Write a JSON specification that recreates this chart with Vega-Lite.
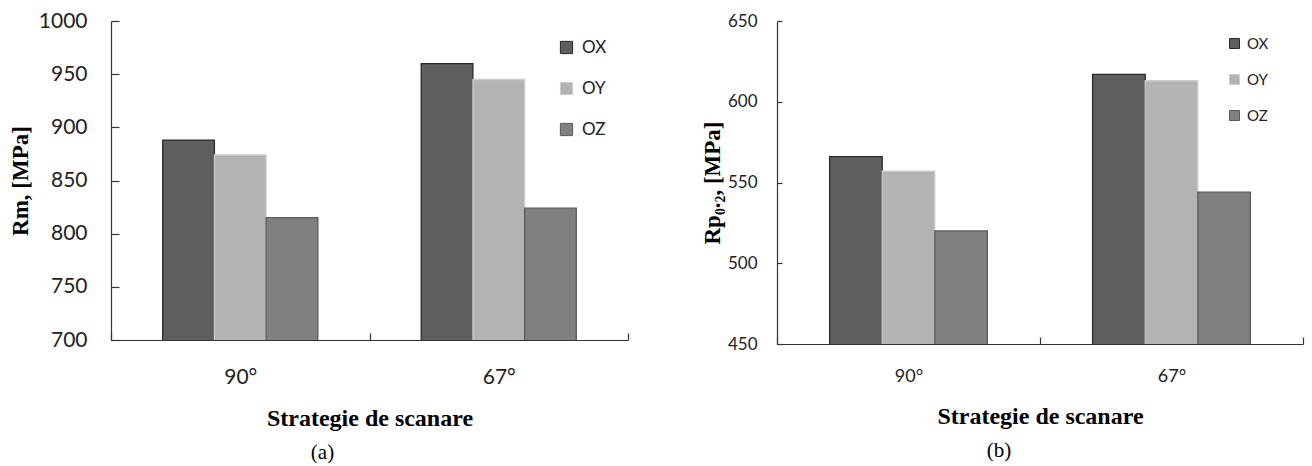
{
  "$schema": "https://vega.github.io/schema/vega-lite/v6.json",
  "background": "white",
  "padding": {"left": 9, "top": 10, "right": 5, "bottom": 0},
  "autosize": {"type": "pad"},
  "datasets": {
    "rm": [
      {"strategy": "90°", "series": "OX", "value": 888},
      {"strategy": "90°", "series": "OY", "value": 874},
      {"strategy": "90°", "series": "OZ", "value": 815},
      {"strategy": "67°", "series": "OX", "value": 960},
      {"strategy": "67°", "series": "OY", "value": 945},
      {"strategy": "67°", "series": "OZ", "value": 824}
    ],
    "rp": [
      {"strategy": "90°", "series": "OX", "value": 566},
      {"strategy": "90°", "series": "OY", "value": 557},
      {"strategy": "90°", "series": "OZ", "value": 520},
      {"strategy": "67°", "series": "OX", "value": 617},
      {"strategy": "67°", "series": "OY", "value": 613},
      {"strategy": "67°", "series": "OZ", "value": 544}
    ]
  },
  "config": {
    "view": {"stroke": null},
    "axis": {"grid": false, "domainColor": "#333", "tickColor": "#333", "labelColor": "#222", "labelFont": "Lato", "titleFont": "Liberation Serif", "titleFontWeight": "bold", "titleColor": "#000", "titleFontSize": 23, "domainWidth": 1.2, "tickWidth": 1.2}
  },
  "spacing": 72,
  "hconcat": [
    {
      "width": 517,
      "height": 319,
      "data": {"name": "rm"},
      "title": {"text": "(a)", "orient": "bottom", "font": "Liberation Serif", "fontSize": 21, "fontWeight": "normal", "color": "#000", "dx": -47, "offset": 12},
      "mark": {"type": "bar", "strokeWidth": 1.3, "clip": true},
      "encoding": {
        "x": {"field": "strategy", "type": "nominal", "sort": ["90°", "67°"], "scale": {"paddingInner": 0, "paddingOuter": 0},
          "axis": {"title": "Strategie de scanare", "titleFontSize": 24, "labelAngle": 0, "labelFontSize": 21, "tickBand": "extent", "tickSize": -7, "labelPadding": 33, "titlePadding": 19}},
        "xOffset": {"field": "series", "sort": ["OX", "OY", "OZ"], "scale": {"paddingOuter": 1.5, "paddingInner": 0}},
        "y": {"field": "value", "type": "quantitative", "scale": {"domain": [700, 1000], "nice": false, "zero": false},
          "axis": {"title": "Rm, [MPa]", "format": "d", "values": [700, 750, 800, 850, 900, 950, 1000], "labelFontSize": 21, "tickSize": -8, "labelPadding": 32, "titlePadding": 6}},
        "fill": {"field": "series", "type": "nominal", "scale": {"domain": ["OX", "OY", "OZ"], "range": ["#5e5e5e", "#b3b3b3", "#808080"]},
          "legend": {"orient": "none", "legendX": 447, "legendY": 18, "title": null, "symbolType": "square", "symbolSize": 150, "symbolStrokeWidth": 1, "labelFont": "Lato", "labelFontSize": 17, "labelColor": "#222", "rowPadding": 23, "labelOffset": 7}},
        "stroke": {"field": "series", "type": "nominal", "scale": {"domain": ["OX", "OY", "OZ"], "range": ["#2a2a2a", "#cccccc", "#5a5a5a"]},
          "legend": {"orient": "none", "legendX": 447, "legendY": 18, "title": null, "symbolType": "square", "symbolSize": 150, "symbolStrokeWidth": 1, "labelFont": "Lato", "labelFontSize": 17, "labelColor": "#222", "rowPadding": 23, "labelOffset": 7}}
      }
    },
    {
      "width": 526,
      "height": 323,
      "data": {"name": "rp"},
      "title": {"text": "(b)", "orient": "bottom", "font": "Liberation Serif", "fontSize": 21, "fontWeight": "normal", "color": "#000", "dx": -41, "offset": 12},
      "mark": {"type": "bar", "strokeWidth": 1.3, "clip": true},
      "encoding": {
        "x": {"field": "strategy", "type": "nominal", "sort": ["90°", "67°"], "scale": {"paddingInner": 0, "paddingOuter": 0},
          "axis": {"title": "Strategie de scanare", "titleFontSize": 24, "labelAngle": 0, "labelFontSize": 18, "tickBand": "extent", "tickSize": -7, "labelPadding": 30, "titlePadding": 19}},
        "xOffset": {"field": "series", "sort": ["OX", "OY", "OZ"], "scale": {"paddingOuter": 1.5, "paddingInner": 0}},
        "y": {"field": "value", "type": "quantitative", "scale": {"domain": [450, 650], "nice": false, "zero": false},
          "axis": {"title": "Rp₀.₂, [MPa]", "format": "d", "values": [450, 500, 550, 600, 650], "labelFontSize": 17, "tickSize": -5, "labelPadding": 25, "titlePadding": 3}},
        "fill": {"field": "series", "type": "nominal", "scale": {"domain": ["OX", "OY", "OZ"], "range": ["#5e5e5e", "#b3b3b3", "#808080"]},
          "legend": {"orient": "none", "legendX": 450, "legendY": 15, "title": null, "symbolType": "square", "symbolSize": 100, "symbolStrokeWidth": 1, "labelFont": "Lato", "labelFontSize": 15, "labelColor": "#222", "rowPadding": 20, "labelOffset": 5}},
        "stroke": {"field": "series", "type": "nominal", "scale": {"domain": ["OX", "OY", "OZ"], "range": ["#2a2a2a", "#cccccc", "#5a5a5a"]},
          "legend": {"orient": "none", "legendX": 450, "legendY": 15, "title": null, "symbolType": "square", "symbolSize": 100, "symbolStrokeWidth": 1, "labelFont": "Lato", "labelFontSize": 15, "labelColor": "#222", "rowPadding": 20, "labelOffset": 5}}
      }
    }
  ],
  "resolve": {"scale": {"fill": "independent", "stroke": "independent", "y": "independent", "x": "independent", "xOffset": "independent"}}
}
